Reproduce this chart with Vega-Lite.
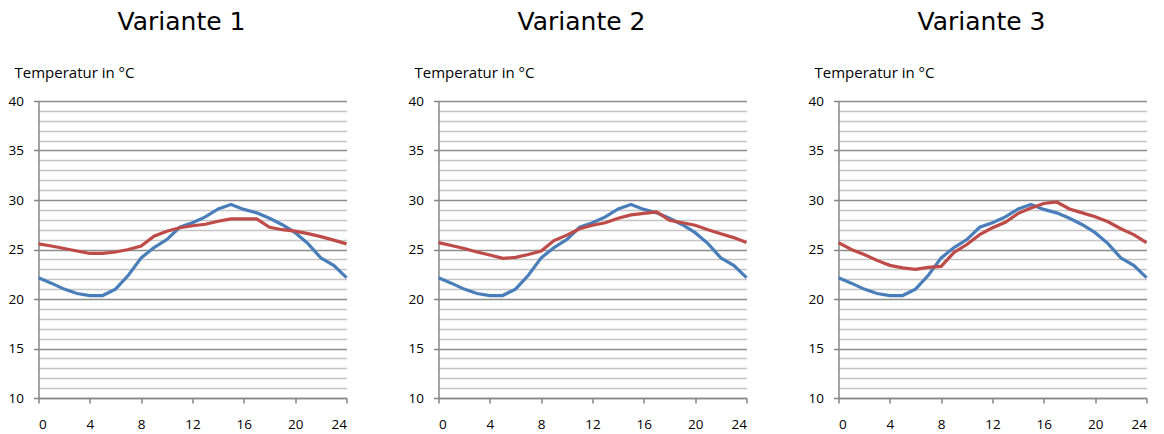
{
  "$schema": "https://vega.github.io/schema/vega-lite/v6.json",
  "background": "white",
  "padding": {"left": 7.5, "top": 10, "right": 4, "bottom": 0},
  "spacing": 92,
  "bounds": "flush",
  "datasets": {
    "temps": [
      {"v": "alle", "s": "Außen", "h": 0, "t": 22.15},
      {"v": "alle", "s": "Außen", "h": 1, "t": 21.6},
      {"v": "alle", "s": "Außen", "h": 2, "t": 21.0},
      {"v": "alle", "s": "Außen", "h": 3, "t": 20.55},
      {"v": "alle", "s": "Außen", "h": 4, "t": 20.35},
      {"v": "alle", "s": "Außen", "h": 5, "t": 20.35},
      {"v": "alle", "s": "Außen", "h": 6, "t": 21.0},
      {"v": "alle", "s": "Außen", "h": 7, "t": 22.4},
      {"v": "alle", "s": "Außen", "h": 8, "t": 24.15},
      {"v": "alle", "s": "Außen", "h": 9, "t": 25.2},
      {"v": "alle", "s": "Außen", "h": 10, "t": 26.0},
      {"v": "alle", "s": "Außen", "h": 11, "t": 27.25},
      {"v": "alle", "s": "Außen", "h": 12, "t": 27.7},
      {"v": "alle", "s": "Außen", "h": 13, "t": 28.3},
      {"v": "alle", "s": "Außen", "h": 14, "t": 29.1},
      {"v": "alle", "s": "Außen", "h": 15, "t": 29.55},
      {"v": "alle", "s": "Außen", "h": 16, "t": 29.05},
      {"v": "alle", "s": "Außen", "h": 17, "t": 28.7},
      {"v": "alle", "s": "Außen", "h": 18, "t": 28.15},
      {"v": "alle", "s": "Außen", "h": 19, "t": 27.5},
      {"v": "alle", "s": "Außen", "h": 20, "t": 26.7},
      {"v": "alle", "s": "Außen", "h": 21, "t": 25.6},
      {"v": "alle", "s": "Außen", "h": 22, "t": 24.15},
      {"v": "alle", "s": "Außen", "h": 23, "t": 23.4},
      {"v": "alle", "s": "Außen", "h": 24, "t": 22.15},
      {"v": "Variante 1", "s": "Innen", "h": 0, "t": 25.57},
      {"v": "Variante 1", "s": "Innen", "h": 1, "t": 25.35},
      {"v": "Variante 1", "s": "Innen", "h": 2, "t": 25.1},
      {"v": "Variante 1", "s": "Innen", "h": 3, "t": 24.85},
      {"v": "Variante 1", "s": "Innen", "h": 4, "t": 24.6},
      {"v": "Variante 1", "s": "Innen", "h": 5, "t": 24.6},
      {"v": "Variante 1", "s": "Innen", "h": 6, "t": 24.75},
      {"v": "Variante 1", "s": "Innen", "h": 7, "t": 25.0},
      {"v": "Variante 1", "s": "Innen", "h": 8, "t": 25.35},
      {"v": "Variante 1", "s": "Innen", "h": 9, "t": 26.35},
      {"v": "Variante 1", "s": "Innen", "h": 10, "t": 26.85},
      {"v": "Variante 1", "s": "Innen", "h": 11, "t": 27.2},
      {"v": "Variante 1", "s": "Innen", "h": 12, "t": 27.4},
      {"v": "Variante 1", "s": "Innen", "h": 13, "t": 27.55},
      {"v": "Variante 1", "s": "Innen", "h": 14, "t": 27.85},
      {"v": "Variante 1", "s": "Innen", "h": 15, "t": 28.1},
      {"v": "Variante 1", "s": "Innen", "h": 16, "t": 28.1},
      {"v": "Variante 1", "s": "Innen", "h": 17, "t": 28.1},
      {"v": "Variante 1", "s": "Innen", "h": 18, "t": 27.25},
      {"v": "Variante 1", "s": "Innen", "h": 19, "t": 27.0},
      {"v": "Variante 1", "s": "Innen", "h": 20, "t": 26.85},
      {"v": "Variante 1", "s": "Innen", "h": 21, "t": 26.6},
      {"v": "Variante 1", "s": "Innen", "h": 22, "t": 26.3},
      {"v": "Variante 1", "s": "Innen", "h": 23, "t": 25.95},
      {"v": "Variante 1", "s": "Innen", "h": 24, "t": 25.57},
      {"v": "Variante 2", "s": "Innen", "h": 0, "t": 25.7},
      {"v": "Variante 2", "s": "Innen", "h": 1, "t": 25.4},
      {"v": "Variante 2", "s": "Innen", "h": 2, "t": 25.1},
      {"v": "Variante 2", "s": "Innen", "h": 3, "t": 24.75},
      {"v": "Variante 2", "s": "Innen", "h": 4, "t": 24.45},
      {"v": "Variante 2", "s": "Innen", "h": 5, "t": 24.1},
      {"v": "Variante 2", "s": "Innen", "h": 6, "t": 24.2},
      {"v": "Variante 2", "s": "Innen", "h": 7, "t": 24.5},
      {"v": "Variante 2", "s": "Innen", "h": 8, "t": 24.85},
      {"v": "Variante 2", "s": "Innen", "h": 9, "t": 25.9},
      {"v": "Variante 2", "s": "Innen", "h": 10, "t": 26.45},
      {"v": "Variante 2", "s": "Innen", "h": 11, "t": 27.1},
      {"v": "Variante 2", "s": "Innen", "h": 12, "t": 27.45},
      {"v": "Variante 2", "s": "Innen", "h": 13, "t": 27.7},
      {"v": "Variante 2", "s": "Innen", "h": 14, "t": 28.15},
      {"v": "Variante 2", "s": "Innen", "h": 15, "t": 28.5},
      {"v": "Variante 2", "s": "Innen", "h": 16, "t": 28.65},
      {"v": "Variante 2", "s": "Innen", "h": 17, "t": 28.8},
      {"v": "Variante 2", "s": "Innen", "h": 18, "t": 27.95},
      {"v": "Variante 2", "s": "Innen", "h": 19, "t": 27.7},
      {"v": "Variante 2", "s": "Innen", "h": 20, "t": 27.45},
      {"v": "Variante 2", "s": "Innen", "h": 21, "t": 27.0},
      {"v": "Variante 2", "s": "Innen", "h": 22, "t": 26.6},
      {"v": "Variante 2", "s": "Innen", "h": 23, "t": 26.2},
      {"v": "Variante 2", "s": "Innen", "h": 24, "t": 25.7},
      {"v": "Variante 3", "s": "Innen", "h": 0, "t": 25.7},
      {"v": "Variante 3", "s": "Innen", "h": 1, "t": 25.0},
      {"v": "Variante 3", "s": "Innen", "h": 2, "t": 24.5},
      {"v": "Variante 3", "s": "Innen", "h": 3, "t": 23.9},
      {"v": "Variante 3", "s": "Innen", "h": 4, "t": 23.4},
      {"v": "Variante 3", "s": "Innen", "h": 5, "t": 23.15},
      {"v": "Variante 3", "s": "Innen", "h": 6, "t": 23.0},
      {"v": "Variante 3", "s": "Innen", "h": 7, "t": 23.2},
      {"v": "Variante 3", "s": "Innen", "h": 8, "t": 23.3},
      {"v": "Variante 3", "s": "Innen", "h": 9, "t": 24.7},
      {"v": "Variante 3", "s": "Innen", "h": 10, "t": 25.5},
      {"v": "Variante 3", "s": "Innen", "h": 11, "t": 26.5},
      {"v": "Variante 3", "s": "Innen", "h": 12, "t": 27.2},
      {"v": "Variante 3", "s": "Innen", "h": 13, "t": 27.75},
      {"v": "Variante 3", "s": "Innen", "h": 14, "t": 28.65},
      {"v": "Variante 3", "s": "Innen", "h": 15, "t": 29.2},
      {"v": "Variante 3", "s": "Innen", "h": 16, "t": 29.65},
      {"v": "Variante 3", "s": "Innen", "h": 17, "t": 29.8},
      {"v": "Variante 3", "s": "Innen", "h": 18, "t": 29.1},
      {"v": "Variante 3", "s": "Innen", "h": 19, "t": 28.7},
      {"v": "Variante 3", "s": "Innen", "h": 20, "t": 28.3},
      {"v": "Variante 3", "s": "Innen", "h": 21, "t": 27.8},
      {"v": "Variante 3", "s": "Innen", "h": 22, "t": 27.1},
      {"v": "Variante 3", "s": "Innen", "h": 23, "t": 26.5},
      {"v": "Variante 3", "s": "Innen", "h": 24, "t": 25.7}
    ]
  },
  "data": {"name": "temps"},
  "config": {
    "view": {"stroke": null},
    "title": {"font": "DejaVu Sans", "fontSize": 25, "fontWeight": "normal", "color": "#000000", "anchor": "middle", "frame": "group", "dx": -11, "offset": 30.5},
    "axis": {"labelFont": "Open Sans", "labelFontSize": 13.5, "labelColor": "#000000", "titleFont": "Open Sans", "titleFontSize": 15, "titleFontWeight": "normal", "titleColor": "#000000", "domainColor": "#868686", "tickColor": "#868686", "domainWidth": 1.5, "tickWidth": 1.5}
  },
  "hconcat": [
    {
      "title": "Variante 1",
      "width": 308, "height": 297,
      "transform": [{"filter": "datum.v === 'alle' || datum.v === 'Variante 1'"}],
      "mark": {"type": "line", "strokeWidth": 3.2},
      "encoding": {
        "x": {"field": "h", "type": "quantitative", "scale": {"domain": [0, 24], "nice": false}, "axis": {"values": [0, 4, 8, 12, 16, 20, 24], "grid": false, "title": null, "tickSize": 5, "labelPadding": 14}},
        "y": {"field": "t", "type": "quantitative", "scale": {"domain": [10, 40], "nice": false}, "axis": {"values": [10,11,12,13,14,15,16,17,18,19,20,21,22,23,24,25,26,27,28,29,30,31,32,33,34,35,36,37,38,39,40], "labelExpr": "datum.value % 5 === 0 ? datum.label : ''", "grid": true, "gridColor": {"condition": {"test": "datum.value % 5 === 0", "value": "#8c8c8c"}, "value": "#c4c4c4"}, "gridWidth": 1.5, "tickOpacity": {"condition": {"test": "datum.value % 5 === 0", "value": 1}, "value": 0}, "tickSize": 5, "labelPadding": 10, "title": "Temperatur in °C", "titleAngle": 0, "titleAlign": "left", "titleBaseline": "alphabetic", "titleX": -24.5, "titleY": -23.5}},
        "color": {"field": "s", "type": "nominal", "scale": {"domain": ["Außen", "Innen"], "range": ["#4a7ebb", "#be4b48"]}, "legend": null}
      }
    },
    {
      "title": "Variante 2",
      "width": 308, "height": 297,
      "transform": [{"filter": "datum.v === 'alle' || datum.v === 'Variante 2'"}],
      "mark": {"type": "line", "strokeWidth": 3.2},
      "encoding": {
        "x": {"field": "h", "type": "quantitative", "scale": {"domain": [0, 24], "nice": false}, "axis": {"values": [0, 4, 8, 12, 16, 20, 24], "grid": false, "title": null, "tickSize": 5, "labelPadding": 14}},
        "y": {"field": "t", "type": "quantitative", "scale": {"domain": [10, 40], "nice": false}, "axis": {"values": [10,11,12,13,14,15,16,17,18,19,20,21,22,23,24,25,26,27,28,29,30,31,32,33,34,35,36,37,38,39,40], "labelExpr": "datum.value % 5 === 0 ? datum.label : ''", "grid": true, "gridColor": {"condition": {"test": "datum.value % 5 === 0", "value": "#8c8c8c"}, "value": "#c4c4c4"}, "gridWidth": 1.5, "tickOpacity": {"condition": {"test": "datum.value % 5 === 0", "value": 1}, "value": 0}, "tickSize": 5, "labelPadding": 10, "title": "Temperatur in °C", "titleAngle": 0, "titleAlign": "left", "titleBaseline": "alphabetic", "titleX": -24.5, "titleY": -23.5}},
        "color": {"field": "s", "type": "nominal", "scale": {"domain": ["Außen", "Innen"], "range": ["#4a7ebb", "#be4b48"]}, "legend": null}
      }
    },
    {
      "title": "Variante 3",
      "width": 308, "height": 297,
      "transform": [{"filter": "datum.v === 'alle' || datum.v === 'Variante 3'"}],
      "mark": {"type": "line", "strokeWidth": 3.2},
      "encoding": {
        "x": {"field": "h", "type": "quantitative", "scale": {"domain": [0, 24], "nice": false}, "axis": {"values": [0, 4, 8, 12, 16, 20, 24], "grid": false, "title": null, "tickSize": 5, "labelPadding": 14}},
        "y": {"field": "t", "type": "quantitative", "scale": {"domain": [10, 40], "nice": false}, "axis": {"values": [10,11,12,13,14,15,16,17,18,19,20,21,22,23,24,25,26,27,28,29,30,31,32,33,34,35,36,37,38,39,40], "labelExpr": "datum.value % 5 === 0 ? datum.label : ''", "grid": true, "gridColor": {"condition": {"test": "datum.value % 5 === 0", "value": "#8c8c8c"}, "value": "#c4c4c4"}, "gridWidth": 1.5, "tickOpacity": {"condition": {"test": "datum.value % 5 === 0", "value": 1}, "value": 0}, "tickSize": 5, "labelPadding": 10, "title": "Temperatur in °C", "titleAngle": 0, "titleAlign": "left", "titleBaseline": "alphabetic", "titleX": -24.5, "titleY": -23.5}},
        "color": {"field": "s", "type": "nominal", "scale": {"domain": ["Außen", "Innen"], "range": ["#4a7ebb", "#be4b48"]}, "legend": null}
      }
    }
  ]
}
